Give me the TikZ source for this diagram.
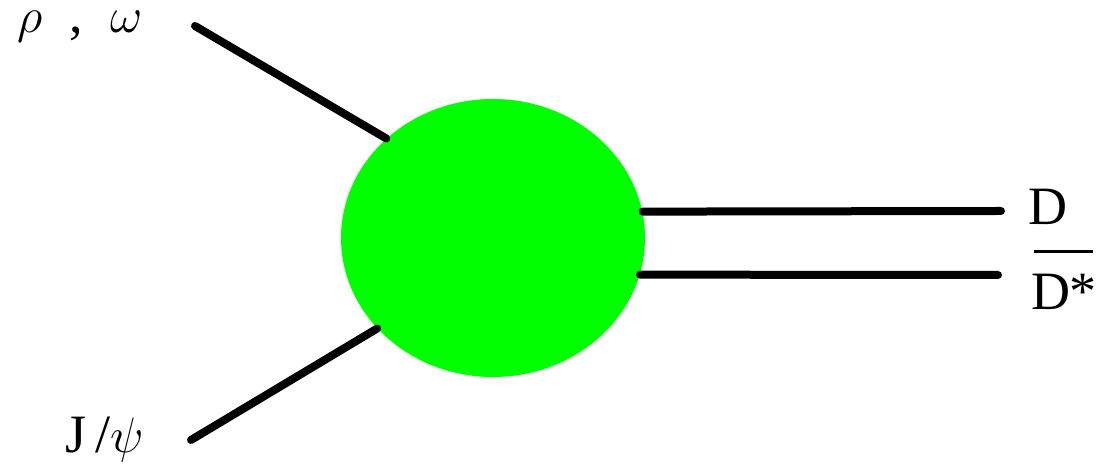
\documentclass[tikz,border=0pt]{standalone}
\usepackage{fontspec}
\setmainfont{Liberation Serif}
\usetikzlibrary{shapes.geometric}
\definecolor{blobgreen}{RGB}{0,255,0}
\begin{document}
\begin{tikzpicture}[x=0.5pt,y=-0.5pt,
  leg/.style={line width=4pt, line cap=round},
  lbl/.style={font=\fontsize{27}{32}\selectfont, inner sep=0pt}]
\useasboundingbox (0,0) rectangle (1100,474);
\node[ellipse, fill=blobgreen, minimum width=152pt, minimum height=139pt, inner sep=0pt] (blob) at (493,238) {};
\coordinate (rhoend) at (195,26);
\coordinate (jpsiend) at (191,440);
\coordinate (dend) at (1001,211);
\coordinate (dsend) at (998,275);
\draw[leg] (rhoend) -- (blob.137.9);
\draw[leg] (jpsiend) -- (blob.218);
\draw[leg] (blob.10.4) -- (dend);
\draw[leg] (blob.-14.3) -- (dsend);
\node[lbl] (rho) at (80,27) {$\rho$\ \ ,\ \ $\omega$};
\node[lbl] (jpsi) at (105,440) {J\,/$\psi$};
\node[lbl] (d) at (1048,207) {D};
\node[lbl] (dstar) at (1064,292) {D*};
\draw[line width=1.5pt] (1034,252) -- (1093,252);
\end{tikzpicture}
\end{document}
